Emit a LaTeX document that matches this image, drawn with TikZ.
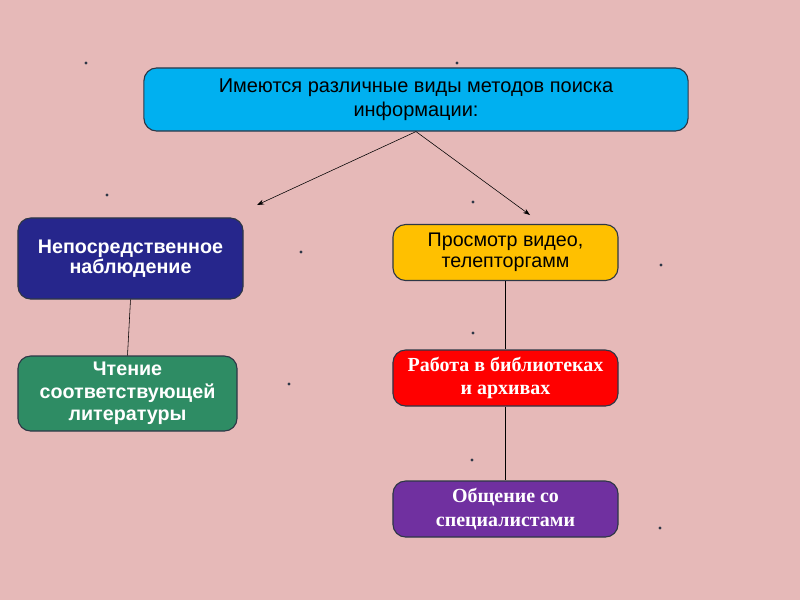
\documentclass[tikz,border=0pt]{standalone}
\usepackage{fontspec}
\setmainfont{Liberation Sans}
\newfontfamily\timesfont{Liberation Serif}
\usepackage{tikz}
\usetikzlibrary{arrows.meta}
\usetikzlibrary{positioning}
\definecolor{slidepink}{RGB}{230,185,184}
\definecolor{headcyan}{RGB}{0,176,240}
\definecolor{nightblue}{RGB}{38,38,140}
\definecolor{seagreen}{RGB}{46,140,100}
\definecolor{ambergold}{RGB}{255,192,0}
\definecolor{brightred}{RGB}{255,0,0}
\definecolor{plumpurple}{RGB}{112,48,160}
\definecolor{edgegray}{RGB}{45,55,70}

\begin{document}
\begin{tikzpicture}[x=0.025cm, y=-0.025cm,
    box/.style={draw=edgegray, line width=0.8pt, rounded corners=9pt, align=center, inner sep=0pt},
    speck/.style={fill=edgegray, circle, inner sep=0.8pt},
    >={Stealth[length=5pt, width=3.5pt]}]
        \fill[slidepink] (0,0) rectangle (800,600);
        \useasboundingbox (0,0) rectangle (800,600);

        \node[box, fill=headcyan, minimum width=13.6cm, minimum height=1.575cm,
              font=\fontsize{14.2}{17}\selectfont]                        (root)  at (416,99.5)  {Имеются различные виды методов поиска\\информации:};
        \node[box, fill=nightblue, text=white, minimum width=5.625cm, minimum height=2.025cm,
              font=\bfseries\fontsize{14}{14.5}\selectfont]               (watch) at (130.5,258.5) {Непосредственное\\наблюдение};
        \node[box, fill=seagreen, text=white, minimum width=5.475cm, minimum height=1.875cm,
              font=\bfseries\fontsize{14}{16}\selectfont]                 (read)  at (127.5,393.5) {Чтение\\соответствующей\\литературы};
        \node[box, fill=ambergold, minimum width=5.625cm, minimum height=1.4cm,
              font=\fontsize{14}{15}\selectfont]                          (video) at (505.5,252.5) {Просмотр видео,\\телепторгамм};
        \node[box, fill=brightred, text=white, minimum width=5.625cm, minimum height=1.4cm,
              font=\timesfont\bfseries\fontsize{14.2}{17}\selectfont]     (libr)  at (505.5,378)   {Работа в библиотеках\\и архивах};
        \node[box, fill=plumpurple, text=white, minimum width=5.625cm, minimum height=1.4cm,
              font=\timesfont\bfseries\fontsize{14.2}{17}\selectfont]     (talk)  at (505.5,509)   {Общение со\\специалистами};

        \coordinate (lefttip)  at (257,205);
        \coordinate (righttip) at (530,215);

        \draw[->] (root.south) -- (lefttip);
        \draw[->] (root.south) -- (righttip);
        \draw (watch.south) -- (read.north);
        \draw (video.south) -- (libr.north);
        \draw (libr.south) -- (talk.north);

        % stray dots of the slide
        \foreach \px/\py in {86/63, 457/63, 107/195, 473/202, 301/252, 661/265, 473/333, 289/384, 472/460, 660/528}
            \node[speck] at (\px,\py) {};
    \end{tikzpicture}
\end{document}
